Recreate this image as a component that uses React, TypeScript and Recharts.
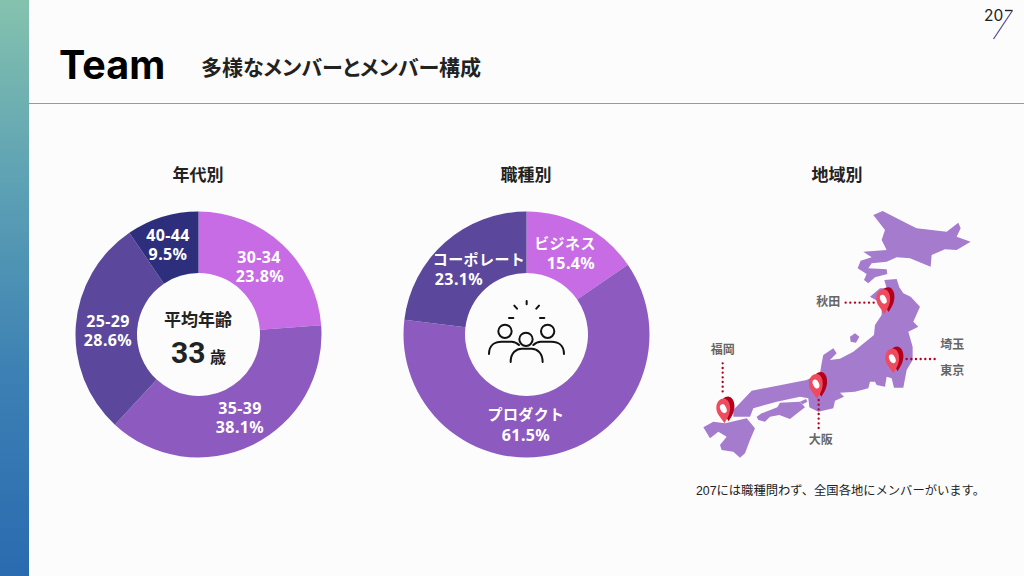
import { Cell, Pie, PieChart } from 'recharts';

// values
const AGE_LABELS = ['30-34', '35-39', '25-29', '40-44'];
const AGE_VALUES = [23.8, 38.1, 28.6, 9.5];
const JOB_LABELS = ['ビジネス', 'プロダクト', 'コーポレート'];
const JOB_VALUES = [15.4, 61.5, 23.1];

const AGE_COLORS = ['#C76CE4', '#8D5ABF', '#5B479B', '#2E2F7C'];
const JOB_COLORS = ['#C76CE4', '#8D5ABF', '#5B479B'];

// [x1, y1, x2, y2] of each label's two lines, page pixels
const AGE_LABEL_POS = [
  [259, 263, 260, 282],
  [240, 414, 240, 433],
  [108, 327, 108, 346],
  [168, 241, 168, 260],
];
const JOB_LABEL_POS = [
  [565, 249, 571, 269],
  [526, 420, 526, 441],
  [479, 265, 459, 285],
];

const FONT = '"Noto Sans CJK JP", "Noto Sans", sans-serif';
const NUM_FONT = '"Noto Sans", sans-serif';

const ageData = AGE_LABELS.map((name, i) => ({ name, value: AGE_VALUES[i] }));
const jobData = JOB_LABELS.map((name, i) => ({ name, value: JOB_VALUES[i] }));

const pct = (v: number) => `${v.toFixed(1)}%`;

// both lines live in one <text> so they stay a single label
function twoLineLabel(positions: number[][], names: string[], values: number[], nameSize: number, nameFont: string) {
  return ({ index }: { index: number }) => {
    const [x1, y1, x2, y2] = positions[index];
    return (
      <text key={index} fill="#fff" fontFamily={NUM_FONT} fontWeight={700} fontSize={16} letterSpacing={0.4} textAnchor="middle">
        <tspan x={x1} y={y1} fontSize={nameSize} fontFamily={nameFont} fontWeight={700}>{names[index]}</tspan>
        <tspan x={x2} y={y2}>{pct(values[index])}</tspan>
      </text>
    );
  };
}

// The map is decoration, traced in crop coordinates
const HOKKAIDO = '550,45 578,33 660,75 680,85 770,95 805,68 812,85 800,110 842,125 800,150 765,148 725,165 722,200 660,175 620,172 590,185 545,190 535,205 590,208 592,222 555,232 535,250 522,240 530,222 503,205 512,182 545,172 520,155 590,150 575,120 585,90';
const HONSHU = '583,240 620,237 628,262 640,280 662,290 690,320 670,365 685,380 655,395 668,440 668,480 650,510 640,563 612,563 605,535 590,530 585,560 560,555 555,545 540,545 535,565 495,575 450,578 462,590 435,602 430,625 385,635 358,622 355,595 330,590 260,605 190,625 180,650 130,650 130,630 185,572 350,540 390,520 395,490 400,465 430,445 440,460 420,480 450,476 490,455 552,405 555,375 575,345 575,310 540,290 570,265 590,265';
const SHIKOKU = '200,650 215,640 262,622 270,608 330,605 345,622 315,645 300,657 268,645 240,650 225,665 205,660';
const KYUSHU = '40,682 70,665 105,670 125,665 170,655 195,685 180,720 165,760 150,773 130,755 95,750 90,735 110,710 85,695 60,715';
const SADO = '480,410 495,400 508,410 498,428 482,425';
const AWAJI = '330,605 348,597 352,605 338,613';

const PINS = [[583, 342], [610, 520], [381, 596], [103, 670]];
const DOTS = [[467, 308, 555, 308], [98, 490, 98, 580], [386, 600, 386, 690], [650, 477, 735, 477]];
const PLACES: [string, number, number][] = [
  ['秋田', 415, 317], ['福岡', 98, 462], ['大阪', 392, 732], ['埼玉', 787, 448], ['東京', 787, 524],
];

function MapPin({ x, y }: { x: number; y: number }) {
  const body = 'M0,0 C-10,-18 -25,-28 -24,-48 C-23,-66 -10,-76 1,-74 C14,-72 19,-54 17,-39 C15,-22 6,-10 0,0 Z';
  return (
    <g transform={`translate(${x},${y})`}>
      <path d={body} fill="#B5001C" transform="translate(13,-6)" />
      <path d={body} fill="#EE4B5E" />
      <ellipse cx={-3} cy={-44} rx={9} ry={14} fill="#fff" transform="rotate(-25 -3 -44)" />
    </g>
  );
}

function JapanMap() {
  return (
    <g transform="translate(690,200) scale(0.3333)">
      {[HOKKAIDO, HONSHU, SHIKOKU, KYUSHU, SADO, AWAJI].map((p, i) => (
        <polygon key={i} points={p} fill="#A57BCE" />
      ))}
      {DOTS.map((d, i) => (
        <line key={i} x1={d[0]} y1={d[1]} x2={d[2]} y2={d[3]} stroke="#B0001E" strokeWidth={7} strokeLinecap="round" strokeDasharray="0 14" />
      ))}
      {PINS.map((p, i) => <MapPin key={i} x={p[0]} y={p[1]} />)}
      {PLACES.map(([t, x, y]) => (
        <text key={t} x={x} y={y} textAnchor="middle" fontSize={36} fontWeight={700} fontFamily={FONT} fill="#666">{t}</text>
      ))}
    </g>
  );
}

function PeopleIcon() {
  return (
    <g transform="translate(390,190) scale(0.3333)" fill="none" stroke="#111" strokeWidth={6} strokeLinecap="round">
      <circle cx={345} cy={424} r={20} />
      <circle cx={473} cy={424} r={20} />
      <circle cx={408} cy={448} r={20} />
      <path d="M297,492 C297,465 315,455 335,455 L365,455 C375,455 382,460 387,465" />
      <path d="M522,492 C522,465 504,455 484,455 L452,455 C442,455 435,460 430,465" />
      <path d="M362,516 C362,488 380,476 395,476 L425,476 C442,476 458,490 458,516" />
      <path d="M410,333 L410,343 M373,347 L381,356 M447,347 L439,356 M357,384 L370,384 M450,384 L463,384" />
    </g>
  );
}

const full: React.CSSProperties = { position: 'absolute', left: 0, top: 0 };

export default function App() {
  return (
    <div style={{ ...full, width: 1024, height: 576, background: '#FCFCFC', overflow: 'hidden' }}>
      <div style={{ ...full, width: 29, height: 576, background: 'linear-gradient(180deg, #85C2AE 0%, #5FA3B4 30%, #3C80B4 65%, #2A6BB0 100%)' }} />
      <div style={{ ...full, left: 29, top: 103, width: 995, height: 1, background: '#999' }} />

      <div style={full}>
        <PieChart width={1024} height={576} margin={{ top: 0, right: 0, bottom: 0, left: 0 }}>
          <Pie
            data={ageData} dataKey="value" cx={198.5} cy={334.5} innerRadius={61.5} outerRadius={123}
            startAngle={90} endAngle={-270} stroke="none" isAnimationActive={false}
            labelLine={false} label={twoLineLabel(AGE_LABEL_POS, AGE_LABELS, AGE_VALUES, 16, NUM_FONT)}
          >
            {ageData.map((d, i) => <Cell key={d.name} fill={AGE_COLORS[i]} />)}
          </Pie>
          <Pie
            data={jobData} dataKey="value" cx={526.5} cy={334.5} innerRadius={61.5} outerRadius={123}
            startAngle={90} endAngle={-270} stroke="none" isAnimationActive={false}
            labelLine={false} label={twoLineLabel(JOB_LABEL_POS, JOB_LABELS, JOB_VALUES, 15, FONT)}
          >
            {jobData.map((d, i) => <Cell key={d.name} fill={JOB_COLORS[i]} />)}
          </Pie>
        </PieChart>
      </div>

      <svg width={1024} height={576} style={full}>
        <text x={59} y={79} fontFamily="Inter, Roboto, sans-serif" fontWeight={700} fontSize={39.5} fill="#000">Team</text>
        <text x={201} y={75} fontFamily={FONT} fontWeight={700} fontSize={21} style={{ fontFeatureSettings: '"palt"' }} fill="#222">多様なメンバーとメンバー構成</text>

        <g fontFamily={FONT} fontWeight={700} fontSize={17} fill="#222" textAnchor="middle">
          <text x={198} y={181}>年代別</text>
          <text x={526} y={181}>職種別</text>
          <text x={837} y={181}>地域別</text>
        </g>

        <text x={198} y={326} textAnchor="middle" fontFamily={FONT} fontWeight={700} fontSize={17} fill="#222">平均年齢</text>
        <text x={171} y={363} fontFamily="Roboto, sans-serif" fontWeight={700} fontSize={30} fill="#222">33</text>
        <text x={210} y={363} fontFamily={FONT} fontWeight={700} fontSize={16} fill="#222">歳</text>

        <PeopleIcon />
        <JapanMap />

        <text x={696} y={495} fontFamily={'"Liberation Sans", "Noto Sans CJK JP", sans-serif'} fontSize={12.3} fill="#222">207には職種問わず、全国各地にメンバーがいます。</text>

        <text x={984} y={21} fontFamily="Inter, sans-serif" fontSize={15.5} fill="#222">20</text>
        <path d="M1005,10.5 L1012.5,10.5" fill="none" stroke="#222" strokeWidth={1.4} />
        <path d="M1012.5,10.5 L993.5,39" fill="none" stroke="#5B4E9E" strokeWidth={1.3} />
      </svg>
    </div>
  );
}
